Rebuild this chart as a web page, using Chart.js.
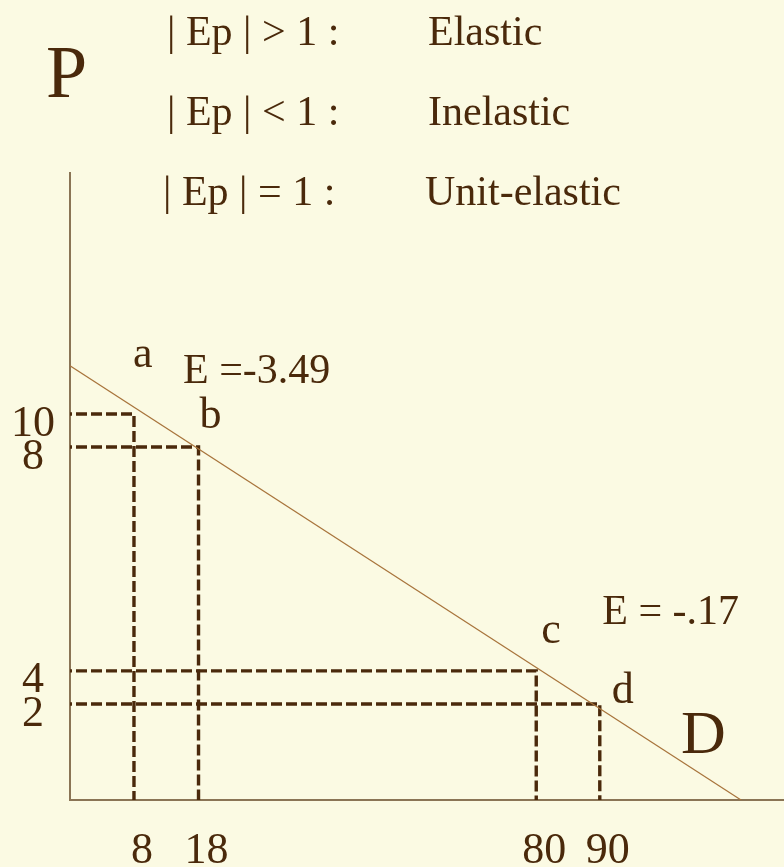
<!DOCTYPE html>
<html>
<head>
<meta charset="utf-8">
<title>Price elasticity of demand</title>
<script src="https://cdn.jsdelivr.net/npm/chart.js@4.4.1/dist/chart.umd.min.js"></script>
<style>
  html, body { margin: 0; padding: 0; background: #fbfae3; }
  #wrap { width: 784px; height: 867px; }
</style>
</head>
<body>
<div id="wrap"><canvas id="demandChart"></canvas></div>
<script>
// Points on the demand curve (quantity, price)
var quantities = [8, 18, 80, 90];
var prices = [10, 8, 4, 2];
var pointNames = ['a', 'b', 'c', 'd'];
// Demand line D, from the price axis to the quantity axis
var demandQ = [0, 113];
var demandP = [13, 0];
// Elasticity between a-b and between c-d
var elasticityText = ['E =-3.49', 'E = -.17'];
// Key at the top
var ruleLabels = ['| Ep | > 1 :', '| Ep | < 1 :', '| Ep | = 1 :'];
var ruleNames = ['Elastic', 'Inelastic', 'Unit-elastic'];

var ink = '#4a290b';
var serif = "'Liberation Serif', 'Times New Roman', serif";

// The diagram is not drawn to scale: each axis places its labelled values
// at these shares of the axis length and is linear in between.
var axisStops = {
  x: [[0, 0], [8, 0.0896], [18, 0.18], [80, 0.653], [90, 0.742], [120, 1]],
  y: [[0, 0], [2, 0.153], [4, 0.206], [8, 0.563], [10, 0.6156], [25, 1]]
};

function interp(stops, v, from, to) {
  var i = 0;
  while (i < stops.length - 2 && v > stops[i + 1][from]) i++;
  var a = stops[i], b = stops[i + 1];
  return a[to] + (v - a[from]) * (b[to] - a[to]) / (b[from] - a[from]);
}

class SchematicScale extends Chart.LinearScale {
  static id = 'schematic';
  static defaults = Chart.LinearScale.defaults;
  getPixelForValue(value) {
    if (value === null || value === undefined) return NaN;
    return this.getPixelForDecimal(interp(axisStops[this.axis], value, 0, 1));
  }
  getValueForPixel(pixel) {
    return interp(axisStops[this.axis], this.getDecimalForPixel(pixel), 1, 0);
  }
}
Chart.register(SchematicScale);

function font(size) { return size + 'px ' + serif; }

var datasets = [{
  data: demandQ.map(function (q, i) { return {x: q, y: demandP[i]}; }),
  borderColor: '#a8743c',
  borderWidth: 1.2,
  pointRadius: 0
}];
quantities.forEach(function (q, i) {
  datasets.push({
    data: [{x: 0, y: prices[i]}, {x: q, y: prices[i]}, {x: q, y: 0}],
    borderColor: ink,
    borderWidth: 3.4,
    borderDash: [11, 4],
    borderDashOffset: 9,
    pointRadius: 0
  });
});

var diagramText = {
  id: 'diagramText',
  beforeDraw: function (chart) {
    var ctx = chart.ctx;
    ctx.save();
    ctx.fillStyle = '#fbfae3';
    ctx.fillRect(0, 0, chart.width, chart.height);
    ctx.restore();
  },
  afterDatasetsDraw: function (chart) {
    var ctx = chart.ctx, xs = chart.scales.x, ys = chart.scales.y;
    ctx.save();
    ctx.fillStyle = ink;
    ctx.textAlign = 'left';
    ctx.textBaseline = 'alphabetic';

    ctx.font = font(74);
    ctx.fillText('P', 46, 97);

    ctx.font = font(42);
    ruleLabels.forEach(function (t, i) {
      var base = 45 + 80 * i;
      ctx.fillText(t, i === 2 ? 163 : 167, base);
      ctx.fillText(ruleNames[i], i === 2 ? 425 : 428, base);
    });

    // letters next to each point
    var offs = [[-1, -47], [1, -19], [5, -28], [12, -1]];
    ctx.font = font(44);
    quantities.forEach(function (q, i) {
      var px = xs.getPixelForValue(q), py = ys.getPixelForValue(prices[i]);
      ctx.fillText(pointNames[i], px + offs[i][0], py + offs[i][1]);
    });
    // elasticity notes, next to points a and c
    ctx.font = font(42);
    var ax = xs.getPixelForValue(quantities[0]), ay = ys.getPixelForValue(prices[0]);
    ctx.fillText(elasticityText[0], ax + 49, ay - 31);
    var cx = xs.getPixelForValue(quantities[2]), cy = ys.getPixelForValue(prices[2]);
    ctx.fillText(elasticityText[1], cx + 66, cy - 47);

    ctx.font = font(62);
    var dx = xs.getPixelForValue(demandQ[1]), dy = ys.getPixelForValue(demandP[1]);
    ctx.fillText('D', dx - 60, dy - 47);
    ctx.restore();
  }
};

var ctx = document.getElementById('demandChart');
var chart = new Chart(ctx, {
  type: 'line',
  data: {datasets: datasets},
  options: {
    responsive: true,
    maintainAspectRatio: false,
    animation: false,
    layout: {autoPadding: false, padding: {top: 173, left: 0, right: 0, bottom: 0}},
    plugins: {legend: {display: false}, tooltip: {enabled: false}},
    elements: {line: {tension: 0, fill: false}},
    scales: {
      x: {
        type: 'schematic',
        min: 0,
        max: 120,
        afterBuildTicks: function (s) { s.ticks = quantities.map(function (v) { return {value: v}; }); },
        afterFit: function (s) { s.height = 67; },
        grid: {display: false, drawTicks: false},
        border: {display: true, color: '#8a7455', width: 2},
        ticks: {
          autoSkip: false,
          maxRotation: 0,
          padding: 25,
          labelOffset: 8,
          color: ink,
          font: {family: serif, size: 44}
        }
      },
      y: {
        type: 'schematic',
        min: 0,
        max: 25,
        afterBuildTicks: function (s) { s.ticks = prices.map(function (v) { return {value: v}; }); },
        afterFit: function (s) { s.width = 70; },
        grid: {display: false, drawTicks: false},
        border: {display: true, color: '#8a7455', width: 2},
        ticks: {
          autoSkip: false,
          padding: 15,
          crossAlign: 'center',
          labelOffset: 10,
          color: ink,
          font: {family: serif, size: 44}
        }
      }
    }
  },
  plugins: [diagramText]
});
</script>
</body>
</html>
